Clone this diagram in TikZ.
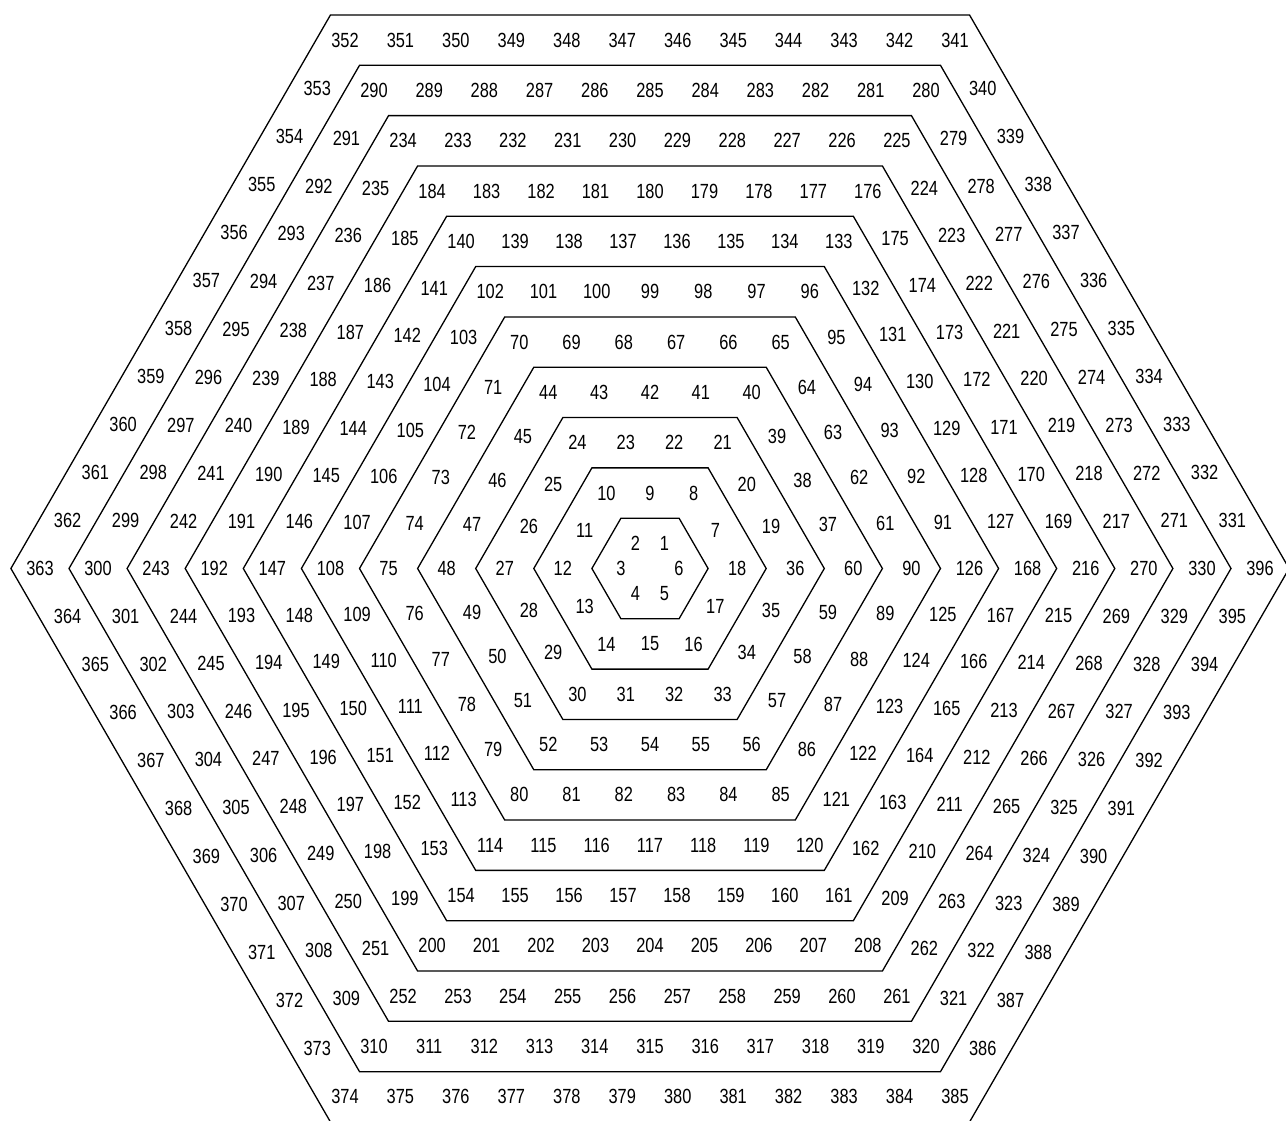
\documentclass[tikz,border=0pt]{standalone}
\usepackage{fontspec}
\newfontfamily\numfont{Liberation Sans}[FakeStretch=0.8]
\begin{document}
\begin{tikzpicture}[x=1pt,y=1pt,
  hexline/.style={draw=black,line width=1.3pt,line join=miter},
  numlabel/.style={inner sep=0pt,font=\numfont\fontsize{20.5}{24}\selectfont}]
\useasboundingbox (0,0) rectangle (1286,1120);
\fill[white] (0,0) rectangle (1286,1120);
\begin{scope}[shift={(650,551.5)}]
\foreach \k in {1,...,11}{
  \pgfmathsetmacro\R{58.1*\k}
  \draw[hexline] (0:\R) -- (60:\R) -- (120:\R) -- (180:\R) -- (240:\R) -- (300:\R) -- cycle;
  \pgfmathsetmacro\r{58.1*(\k-0.5)}
  \pgfmathtruncatemacro\N{6*\k}
  \foreach \j in {1,...,\N}{
    \pgfmathtruncatemacro\s{div(\j,\k)}
    \pgfmathsetmacro\f{(\j-\s*\k)/\k}
    \pgfmathsetmacro\px{\r*((1-\f)*cos(60*\s)+\f*cos(60*\s+60))}
    \pgfmathsetmacro\py{\r*((1-\f)*sin(60*\s)+\f*sin(60*\s+60))}
    \pgfmathtruncatemacro\n{3*\k*(\k-1)+\j}
    \node[numlabel] (n\n) at (\px,\py) {\n};
  }
}
\end{scope}
\end{tikzpicture}
\end{document}
